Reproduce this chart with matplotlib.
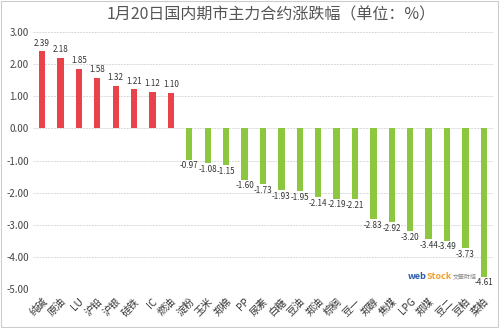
import matplotlib.pyplot as plt
import numpy as np

plt.rcParams['font.family'] = ['Noto Sans CJK SC', 'DejaVu Sans']

names = ["纯碱", "原油", "LU", "沪铅", "沪银", "硅铁", "IC", "燃油", "淀粉", "玉米",
         "郑棉", "PP", "尿素", "白糖", "豆油", "郑油", "棕榈", "豆一", "郑醇", "焦煤",
         "LPG", "郑煤", "豆二", "豆粕", "菜粕"]
changes = [2.39, 2.18, 1.85, 1.58, 1.32, 1.21, 1.12, 1.10, -0.97, -1.08,
           -1.15, -1.60, -1.73, -1.93, -1.95, -2.14, -2.19, -2.21, -2.83, -2.92,
           -3.20, -3.44, -3.49, -3.73, -4.61]
yticks = [3, 2, 1, 0, -1, -2, -3, -4, -5]

fig = plt.figure(figsize=(4.99, 3.28), dpi=100)
ax = fig.add_axes([0.066, 0.118, 0.922, 0.785])

x = np.arange(len(names))
colors = ["#E8434A" if v > 0 else "#8DC63F" for v in changes]
ax.bar(x, changes, width=0.34, color=colors, zorder=3)

for xi, v in zip(x, changes):
    if v > 0:
        ax.text(xi, v + 0.12, f"{v:.2f}", ha="center", va="bottom", fontsize=5.8, color="#333333")
    else:
        ax.text(xi, v - 0.05, f"{v:.2f}", ha="center", va="top", fontsize=5.8, color="#333333")

ax.set_xlim(-0.5, len(names) - 0.5)
ax.set_ylim(-5.0, 3.0)
ax.set_yticks(yticks)
ax.set_yticklabels([f"{t:.2f}" for t in yticks], fontsize=7, color="#444444")
ax.set_xticks(x)
ax.set_xticklabels(names, rotation=45, ha="right", rotation_mode="anchor", fontsize=7.3, color="#333333")
ax.tick_params(length=0, pad=3)
ax.tick_params(axis="x", pad=5)
ax.grid(axis="y", color="#D9D9D9", linestyle=(0, (2, 1)), linewidth=0.7, zorder=0)
for s in ax.spines.values():
    s.set_visible(False)

fig.text(0.543, 0.953, "1月20日国内期市主力合约涨跌幅（单位：%）", ha="center", va="center",
         fontsize=11.5, color="#555555")

# webstock logo text
ax.text(19.85, -4.6, "web", fontsize=6.5, color="#2B5BA8", fontweight="bold", ha="left", va="center")
ax.text(20.9, -4.6, "Stock", fontsize=6.5, color="#F0A030", fontweight="bold", ha="left", va="center")
ax.text(22.3, -4.62, "文華財經", fontsize=4.3, color="#888888", ha="left", va="center")

fig.patches.append(plt.Rectangle((0.002, 0.003), 0.996, 0.994, transform=fig.transFigure,
                                 fill=False, edgecolor="#CCCCCC", linewidth=0.8))

fig.savefig("out.png", dpi=100)
